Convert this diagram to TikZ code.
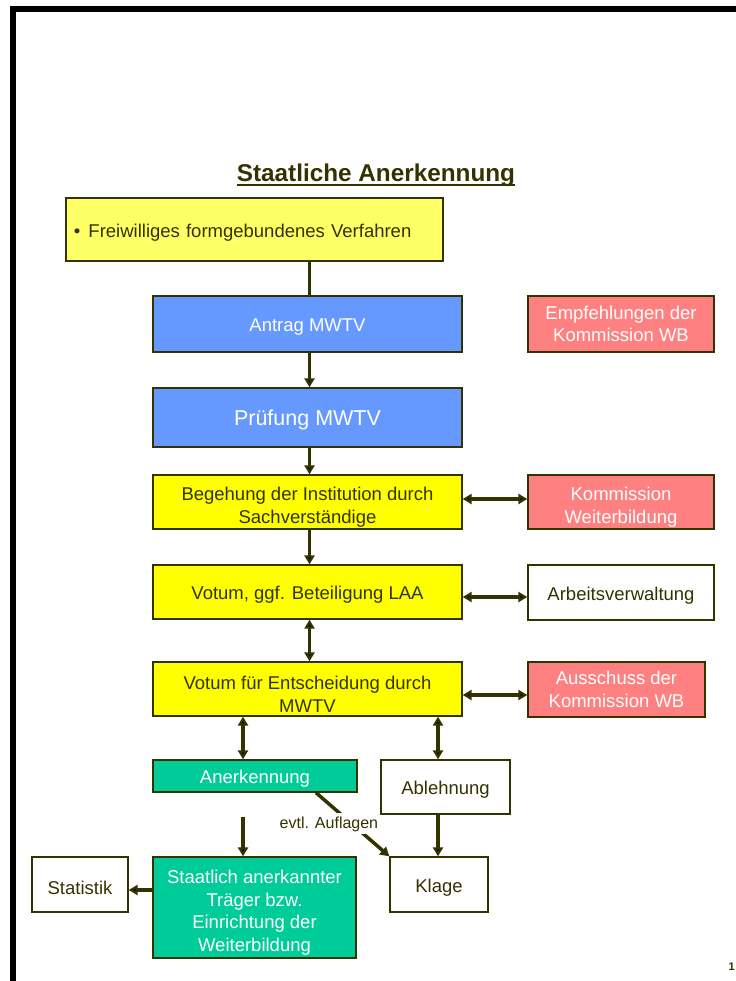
\documentclass[tikz,border=0pt]{standalone}
\usepackage{fontspec}
\setmainfont{Liberation Sans}
\usepackage{tikz}
\usetikzlibrary{arrows.meta}
\definecolor{textolive}{HTML}{333300}
\definecolor{paleyellow}{HTML}{FFFF66}
\definecolor{flowyellow}{HTML}{FFFF00}
\definecolor{flowblue}{HTML}{6699FF}
\definecolor{flowpink}{HTML}{FF8080}
\definecolor{flowgreen}{HTML}{00CC99}
\newcommand{\flowfont}{\fontsize{18.5bp}{22.5bp}\selectfont}
\newcommand{\flowbig}{\fontsize{21.5bp}{25bp}\selectfont}
\newcommand{\flowsmall}{\fontsize{16bp}{19bp}\selectfont}
\newcommand{\firstline}{\rule{0pt}{24bp}}

\begin{document}
\begin{tikzpicture}[x=1bp,y=-1bp,
  every node/.style={font=\flowfont,text=textolive,align=center},
  flowbox/.style={draw=textolive,line width=1.3bp,inner sep=0pt,minimum width=309bp,minimum height=54bp,
    execute at begin node={\rule{0pt}{19.5bp}}},
  sidebox/.style={flowbox,minimum width=186bp},
  link/.style={draw=textolive,line width=3.5bp,>={Triangle[width=10bp,length=9bp]}}]
  \useasboundingbox (0,0) rectangle (736,981);
  \draw[line width=6bp] (12.5,995) -- (12.5,8.5) -- (750,8.5);
  \node[font=\bfseries\fontsize{24.3bp}{28bp}\selectfont,inner sep=0pt,anchor=base] (title) at (376,181) {Staatliche Anerkennung};
  \draw[textolive,line width=2.5bp] ([yshift=-4bp]title.base west) -- ([yshift=-4bp]title.base east);

  \node[flowbox,fill=paleyellow,minimum width=377bp,minimum height=63bp,text width=361bp,align=left] (frei) at (254.5,229.5) {\textbullet\hspace{8bp}Freiwilliges formgebundenes Verfahren};
  \node[flowbox,fill=flowblue,text=white,minimum height=56bp] (antrag) at (307.5,324) {Antrag MWTV};
  \node[sidebox,fill=flowpink,text=white,minimum height=56bp] (empf) at (621,324) {Empfehlungen der\\Kommission WB};
  \node[flowbox,fill=flowblue,text=white,minimum height=59bp,font=\flowbig] (pruef) at (307.5,417.5) {Prüfung MWTV};
  \node[flowbox,fill=flowyellow] (begeh) at (307.5,502) {\firstline Begehung der Institution durch\\Sachverständige};
  \node[sidebox,fill=flowpink,text=white] (kommwb) at (621,502) {\firstline Kommission\\Weiterbildung};
  \node[flowbox,fill=flowyellow] (votum) at (307.5,592) {Votum, ggf. Beteiligung LAA};
  \node[sidebox,fill=white,minimum height=55bp] (arbeit) at (621,592.5) {Arbeitsverwaltung};
  \node[flowbox,fill=flowyellow] (entsch) at (307.5,689) {\firstline Votum für Entscheidung durch\\MWTV};
  \node[sidebox,fill=flowpink,text=white,minimum width=177bp,minimum height=55bp] (aussch) at (616.5,689.5) {Ausschuss der\\Kommission WB};
  \node[flowbox,fill=flowgreen,text=white,minimum width=204bp,minimum height=32bp] (anerk) at (255,776) {Anerkennung};
  \node[flowbox,fill=white,minimum width=129bp] (ablehn) at (445.5,787) {Ablehnung};
  \node[flowbox,fill=flowgreen,text=white,minimum width=203bp,minimum height=101bp] (staat) at (254.5,907.5) {\firstline Staatlich anerkannter\\Träger bzw.\\Einrichtung der\\Weiterbildung};
  \node[flowbox,fill=white,minimum width=96bp,minimum height=55bp] (statistik) at (80,884.5) {Statistik};
  \node[flowbox,fill=white,minimum width=98bp,minimum height=55bp] (klage) at (439,884.5) {Klage};
  \node[font=\bfseries\fontsize{11bp}{13bp}\selectfont,inner sep=0pt,anchor=base east] (pagenum) at (735,970) {1};

  \coordinate (mainlane) at (309.5,0);
  \coordinate (leftlane) at (243,0);
  \coordinate (rightlane) at (438,0);
  \coordinate (row1) at (0,499);
  \coordinate (row2) at (0,597);
  \coordinate (row3) at (0,695);
  \coordinate (row4) at (0,890);
  \path[link]
    (mainlane |- frei.south) edge (mainlane |- antrag.north)
    (mainlane |- antrag.south) edge[->] (mainlane |- pruef.north)
    (mainlane |- pruef.south) edge[->] (mainlane |- begeh.north)
    (mainlane |- begeh.south) edge[->] (mainlane |- votum.north)
    (mainlane |- votum.south) edge[<->] (mainlane |- entsch.north)
    (begeh.east |- row1) edge[<->] (kommwb.west |- row1)
    (votum.east |- row2) edge[<->] (arbeit.west |- row2)
    (entsch.east |- row3) edge[<->] (aussch.west |- row3)
    (leftlane |- entsch.south) edge[<->] (leftlane |- anerk.north)
    (rightlane |- entsch.south) edge[<->] (rightlane |- ablehn.north)
    (leftlane |- anerk.south) edge[->,shorten <=24bp] (leftlane |- staat.north)
    (rightlane |- ablehn.south) edge[->] (rightlane |- klage.north)
    (staat.west |- row4) edge[->] (statistik.east |- row4);
  \draw[link,->] ([xshift=61bp]anerk.south) -- node[pos=0.49,xshift=-23bp,fill=white,inner xsep=2bp,inner ysep=3bp,font=\flowsmall] {evtl. Auflagen} (klage.north west);
\end{tikzpicture}
\end{document}
